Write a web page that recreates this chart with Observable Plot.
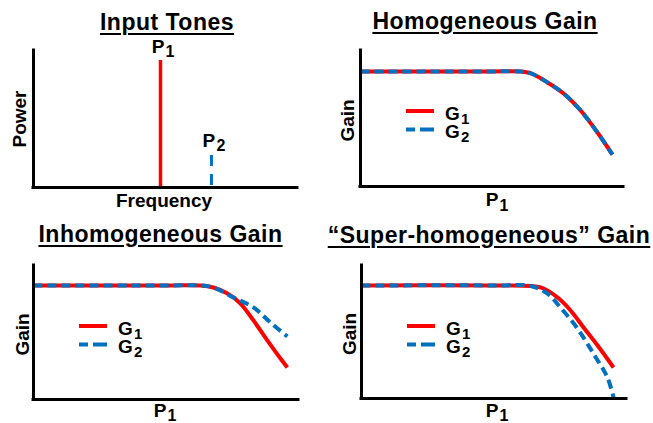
<!DOCTYPE html>
<html><head><meta charset="utf-8">
<script src="https://cdn.jsdelivr.net/npm/d3@7"></script>
<script src="https://cdn.jsdelivr.net/npm/@observablehq/plot@0.6"></script>
<style>
html,body{margin:0;padding:0;background:#fff;}
#chart{position:relative;width:653px;height:423px;overflow:hidden;font-family:"Liberation Sans",Arial,sans-serif;}
#chart svg{position:absolute;overflow:visible;}
.title{position:absolute;width:400px;text-align:center;font-weight:bold;font-size:23px;line-height:23px;letter-spacing:0.5px;text-decoration:underline;text-decoration-thickness:2px;text-underline-offset:3px;color:#000;white-space:nowrap;}
</style></head><body><div id="chart"></div>
<script>
const FONT = '"Liberation Sans", Arial, sans-serif';
const RED = "#ff0000", BLUE = "#0070c0";

// ---- data ----
const titles = ["Input Tones", "Homogeneous Gain", "Inhomogeneous Gain", "\u201CSuper-homogeneous\u201D Gain"];
const toneNames = ["P", "P"];
const toneSubs = ["1", "2"];
const toneFreq = [0.481, 0.674];
const tonePower = [0.927, 0.234];
const seriesNames = ["G", "G"];
const seriesSubs = ["1", "2"];
const xLabel = ["P", "1"];

const homogP1 = [0, 0.5, 0.608, 0.646, 0.711, 0.772, 0.837, 0.901, 0.958];
const homogG1 = [0.846, 0.846, 0.846, 0.833, 0.765, 0.684, 0.559, 0.397, 0.235];
const homogG2 = [0.846, 0.846, 0.846, 0.833, 0.765, 0.684, 0.559, 0.397, 0.235];

const inhomP1G1 = [0, 0.5, 0.630, 0.679, 0.732, 0.781, 0.830, 0.883, 0.932, 0.958];
const inhomG1   = [0.851, 0.851, 0.851, 0.836, 0.791, 0.716, 0.590, 0.440, 0.306, 0.239];
const inhomP1G2 = [0, 0.5, 0.630, 0.679, 0.755, 0.830, 0.894, 0.958];
const inhomG2   = [0.851, 0.851, 0.851, 0.836, 0.761, 0.687, 0.575, 0.470];

const superP1G1 = [0, 0.5, 0.638, 0.687, 0.740, 0.789, 0.838, 0.891, 0.951];
const superG1   = [0.850, 0.850, 0.846, 0.827, 0.759, 0.662, 0.534, 0.398, 0.233];
const superP1G2 = [0, 0.5, 0.638, 0.702, 0.751, 0.815, 0.875, 0.928, 0.951];
const superG2   = [0.850, 0.850, 0.846, 0.789, 0.684, 0.526, 0.338, 0.158, 0.008];

// ---- helpers ----
const chart = document.getElementById("chart");
const zip = (xs, ys) => xs.map((p, i) => ({p, g: ys[i]}));
const txt = {fontFamily: FONT, fontWeight: "bold", fill: "black", text: d => d};

function place(svg, left, top) {
  svg.style.left = left + "px";
  svg.style.top = top + "px";
  chart.appendChild(svg);
}

function plotBase(o, marks) {
  return Plot.plot({
    width: o.width, height: o.height,
    marginLeft: o.mL, marginRight: o.mR, marginTop: o.mT, marginBottom: o.mB,
    x: {domain: [0, 1], axis: null},
    y: {domain: [0, 1], axis: null},
    style: {fontFamily: FONT, background: "transparent"},
    marks
  });
}

function axesMarks() {
  return [
    Plot.ruleX([0], {stroke: "black", strokeWidth: 3, strokeLinecap: "square"}),
    Plot.ruleY([0], {stroke: "black", strokeWidth: 3, strokeLinecap: "square"})
  ];
}

function addLegend(svg, o) {
  const colors = [RED, BLUE];
  const g = d3.select(svg).append("g").attr("transform", `translate(${o.mL},${o.mT})`)
    .attr("font-family", FONT).attr("font-weight", "bold").attr("text-anchor", "start");
  seriesNames.forEach((name, i) => {
    const y = 61 + i * 18.5;
    const ln = g.append("line").attr("x1", 46).attr("x2", 74).attr("y1", y).attr("y2", y)
      .attr("stroke", colors[i]).attr("stroke-width", 4);
    if (i) ln.attr("stroke-dasharray", "9,5,14");
    g.append("text").attr("x", 85).attr("y", y + 8.5).attr("font-size", 19).text(name);
    g.append("text").attr("x", 101).attr("y", y + 12.5).attr("font-size", 15).text(seriesSubs[i]);
  });
}

function gainPanel(o, d1, d2) {
  const svg = plotBase(o, [
    Plot.line(d1, {x: "p", y: "g", stroke: RED, strokeWidth: 4, strokeLinecap: "butt", curve: "catmull-rom"}),
    Plot.line(d2, {x: "p", y: "g", stroke: BLUE, strokeWidth: 4, strokeLinecap: "butt", strokeDasharray: "9,5", curve: "catmull-rom"}),
    ...axesMarks(),
    Plot.text(["Gain"], {...txt, frameAnchor: "left", rotate: -90, textAnchor: "middle", lineAnchor: "bottom", dx: o.gainDx, dy: 2, fontSize: 19}),
    Plot.text([xLabel[0]], {...txt, frameAnchor: "bottom", textAnchor: "end", lineAnchor: "bottom", dx: o.pDx + 3, dy: o.pDy, fontSize: 19}),
    Plot.text([xLabel[1]], {...txt, frameAnchor: "bottom", textAnchor: "start", lineAnchor: "bottom", dx: o.pDx + 4, dy: o.pDy + o.subDy, fontSize: 16})
  ]);
  addLegend(svg, o);
  place(svg, o.left, o.top);
}

// ---- panel 1: input tones ----
const tones = toneFreq.map((f, i) => ({f, power: tonePower[i], base: 0, name: toneNames[i], sub: toneSubs[i]}));
{
  const o = {left: 0, top: 0, width: 326, height: 212, mL: 33, mR: 29, mT: 50, mB: 25};
  const svg = plotBase(o, [
    Plot.ruleX(tones, {filter: (d, i) => i === 0, x: "f", y1: "power", y2: "base", stroke: RED, strokeWidth: 3.5}),
    Plot.ruleX(tones, {filter: (d, i) => i === 1, x: "f", y1: "power", y2: "base", stroke: BLUE, strokeWidth: 3, strokeDasharray: "11,8"}),
    ...axesMarks(),
    Plot.text(tones, {...txt, x: "f", y: "power", text: "name", textAnchor: "middle", lineAnchor: "bottom", dx: -2.5, dy: -8, fontSize: 19}),
    Plot.text(tones, {...txt, x: "f", y: "power", text: "sub", textAnchor: "start", lineAnchor: "bottom", dx: 5, dy: -4, fontSize: 16}),
    Plot.text(["Power"], {...txt, frameAnchor: "left", rotate: -90, textAnchor: "middle", lineAnchor: "bottom", dx: -7.5, dy: 0, fontSize: 19}),
    Plot.text(["Frequency"], {...txt, frameAnchor: "bottom", textAnchor: "middle", lineAnchor: "bottom", dx: -1.5, dy: 19, fontSize: 19})
  ]);
  place(svg, o.left, o.top);
}

// ---- gain panels ----
gainPanel({left: 326, top: 0, width: 327, height: 212, mL: 34, mR: 30, mT: 50, mB: 26, gainDx: -6.7, pDx: 3.5, pDy: 19.5, subDy: 5},
  zip(homogP1, homogG1), zip(homogP1, homogG2));
gainPanel({left: 0, top: 212, width: 326, height: 211, mL: 33, mR: 28, mT: 53, mB: 24, gainDx: -4.7, pDx: -2.5, pDy: 17.5, subDy: 3.5},
  zip(inhomP1G1, inhomG1), zip(inhomP1G2, inhomG2));
gainPanel({left: 326, top: 212, width: 327, height: 211, mL: 35, mR: 27, mT: 53, mB: 25, gainDx: -5.7, pDx: 1.5, pDy: 18.5, subDy: 3.5},
  zip(superP1G1, superG1), zip(superP1G2, superG2));

// ---- titles ----
const titlePos = [[167, 10.5], [485, 9.5], [160.5, 222.5], [489, 223.5]];
titles.forEach((t, i) => {
  const div = document.createElement("div");
  div.className = "title";
  div.textContent = t;
  div.style.left = (titlePos[i][0] - 200) + "px";
  div.style.top = titlePos[i][1] + "px";
  chart.appendChild(div);
});
</script></body></html>
